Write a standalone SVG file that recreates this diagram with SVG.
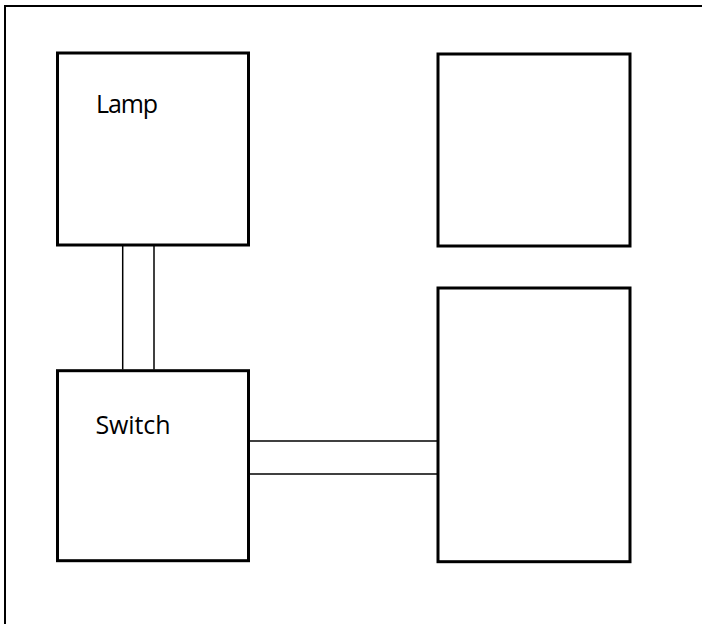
<svg xmlns="http://www.w3.org/2000/svg" width="702" height="624" viewBox="0 0 702 624">
  <style>
    .box { fill: #ffffff; stroke: #000000; stroke-width: 3; }
    .wire { fill: none; stroke: #000000; stroke-width: 1.5; }
    .label { font-family: "Open Sans", "Noto Sans", sans-serif; font-size: 25px; fill: #000000; }
  </style>
  <rect x="0" y="0" width="702" height="624" fill="#ffffff"/>
  <path d="M5,624 V6 H702" fill="none" stroke="#000000" stroke-width="2"/>
  <g id="connectors">
    <line class="wire" x1="122.7" y1="246" x2="122.7" y2="369.5"/>
    <line class="wire" x1="154" y1="246" x2="154" y2="369.5"/>
    <line class="wire" x1="250" y1="441" x2="437" y2="441"/>
    <line class="wire" x1="250" y1="474" x2="437" y2="474"/>
  </g>
  <g id="lamp">
    <rect class="box" x="57.5" y="53" width="191" height="192"/>
    <text class="label" x="96" y="112.5" textLength="62">Lamp</text>
  </g>
  <g id="box-top-right">
    <rect class="box" x="438" y="54" width="192" height="192"/>
  </g>
  <g id="switch">
    <rect class="box" x="57.5" y="370.7" width="191" height="190"/>
    <text class="label" x="95.5" y="434" textLength="75">Switch</text>
  </g>
  <g id="box-bottom-right">
    <rect class="box" x="438" y="288" width="192" height="273.7"/>
  </g>
</svg>
